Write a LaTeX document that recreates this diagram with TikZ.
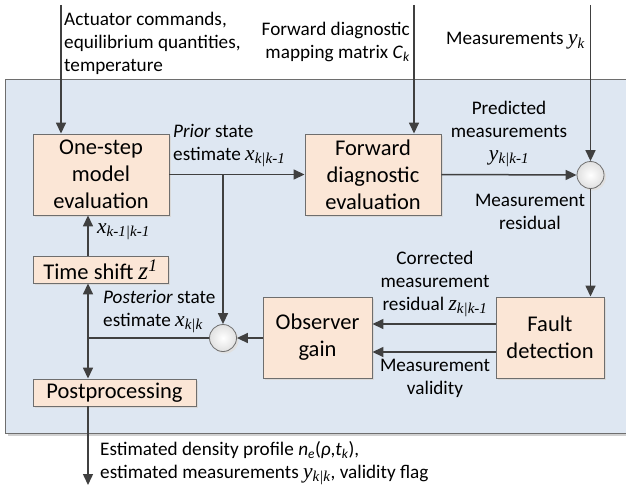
\documentclass[tikz,border=0pt]{standalone}
\usepackage{fontspec}
\setmainfont{Carlito}
\newfontfamily\mfont[Scale=1.12]{Liberation Serif}
\usetikzlibrary{arrows.meta}
\newcommand{\mv}[1]{{\mfont\itshape #1}}
\newcommand{\msb}[2]{\mv{#1}\textsubscript{\mv{#2}}}
\definecolor{bgblue}{RGB}{222,231,242}
\definecolor{boxfill}{RGB}{251,230,214}
\definecolor{edge}{RGB}{110,110,110}
\definecolor{wire}{RGB}{64,64,64}
\begin{document}
\begin{tikzpicture}[x=1pt,y=-1pt,
  blk/.style={draw=edge,fill=boxfill,line width=0.9pt,inner sep=0pt,align=center,
    font=\fontsize{22.5}{27}\selectfont},
  sumc/.style={circle,draw=edge,line width=0.8pt,inner color=white,outer color=black!12,
    minimum size=27pt,inner sep=0pt},
  lbl/.style={inner sep=0pt,font=\fontsize{19.2}{23}\selectfont},
  wr/.style={draw=wire,line width=1.5pt},
  arr/.style={wr,-{Triangle[length=11pt,width=10pt]}}]
\useasboundingbox (0,0) rectangle (626,487);
% background panel
\fill[black!18] (8,82) rectangle (626,436);
\fill[bgblue] (5,79) rectangle (626,433);
\draw[edge,line width=0.9pt] (626,79) -- (5,79) -- (5,433) -- (626,433);
% blocks
\fill[black!15] (35,136) rectangle (171,217);
\node[blk,minimum width=136pt,minimum height=81pt] (one) at (101,174.5) {One-step\\model\\evaluation};
\fill[black!15] (307,136) rectangle (443,217);
\node[blk,minimum width=136pt,minimum height=81pt] (fwd) at (373,174.5) {Forward\\diagnostic\\evaluation};
\fill[black!15] (35,258) rectangle (170,285);
\node[blk,minimum width=135pt,minimum height=27pt] (ts) at (100.5,269.5) {Time shift \mv{z}\textsuperscript{\mv{1}}};
\fill[black!15] (35,381) rectangle (198,408);
\node[blk,minimum width=163pt,minimum height=27pt] (pp) at (114.5,392.5) {Postprocessing};
\fill[black!15] (265,299) rectangle (374,380);
\node[blk,minimum width=109pt,minimum height=81pt] (obs) at (317.5,337.5) {Observer\\gain};
\fill[black!15] (498,299) rectangle (606,380);
\node[blk,minimum width=108pt,minimum height=81pt] (fault) at (550,337.5) {Fault\\detection};
\fill[black!12] (592.5,177) circle (13.5);
\node[sumc] (s1) at (590.5,175) {};
\fill[black!12] (225,340) circle (13.5);
\node[sumc] (s2) at (223,338) {};
% coordinates
\coordinate (in1) at (61,5);
\coordinate (in2) at (414,5);
\coordinate (in3) at (590.5,5);
\coordinate (br) at (223,174.5);
\coordinate (jn) at (88,338);
\coordinate (out) at (88,487);
% connectors
\draw[arr] (in1) -- (in1 |- one.north);
\draw[arr] (in2) -- (in2 |- fwd.north);
\draw[arr] (in3) -- (s1.north);
\draw[arr] (one.east) -- (fwd.west);
\draw[arr] (br) -- (s2.north);
\draw[arr] (fwd.east) -- (s1.west);
\draw[arr] (s1.south) -- (s1 |- fault.north);
\draw[arr] ([yshift=13.5pt]fault.west) -- ([yshift=13.5pt]obs.east);
\draw[arr] ([yshift=-14.5pt]fault.west) -- ([yshift=-14.5pt]obs.east);
\draw[arr] (obs.west |- s2) -- (s2.east);
\draw[wr] (s2.west) -- (jn);
\draw[arr] (jn) -- (jn |- ts.south);
\draw[arr] (jn) -- (jn |- pp.north);
\draw[arr] (jn |- ts.north) -- (jn |- one.south);
\draw[arr] (jn |- pp.south) -- ([yshift=2pt]out);
% labels
\node[lbl,anchor=north west,align=left] (l1) at (64,12) {Actuator commands,\\equilibrium quantities,\\temperature};
\node[lbl,anchor=north east,align=right] (l2) at (410,22) {Forward diagnostic\\mapping matrix \textit{C}\textsubscript{\textit{k}}};
\node[lbl,anchor=base west] (l3) at (446,45) {Measurements \msb{y}{k}};
\node[lbl,anchor=north west,align=left] (l4) at (173,124) {\textit{Prior} state\\estimate \msb{x}{k|k-1}};
\node[lbl,anchor=north,align=center] (l5) at (509,101) {Predicted\\measurements\\\msb{y}{k|k-1}};
\node[lbl,anchor=north,align=center] (l6) at (530,194) {Measurement\\residual};
\node[lbl,anchor=base west] (l7) at (97,233) {\msb{x}{k-1|k-1}};
\node[lbl,anchor=north west,align=left] (l8) at (103,290) {\textit{Posterior} state\\estimate \msb{x}{k|k}};
\node[lbl,anchor=north,align=center] (l9) at (435,251) {Corrected\\measurement\\residual \msb{z}{k|k-1}};
\node[lbl,anchor=north,align=center] (l10) at (435,359) {Measurement\\validity};
\node[lbl,anchor=north west,align=left] (l11) at (100,441) {Estimated density profile \textit{n}\textsubscript{\textit{e}}(\textit{ρ},\textit{t}\textsubscript{\textit{k}}),\\estimated measurements \msb{y}{k|k}, validity flag};
\end{tikzpicture}
\end{document}
